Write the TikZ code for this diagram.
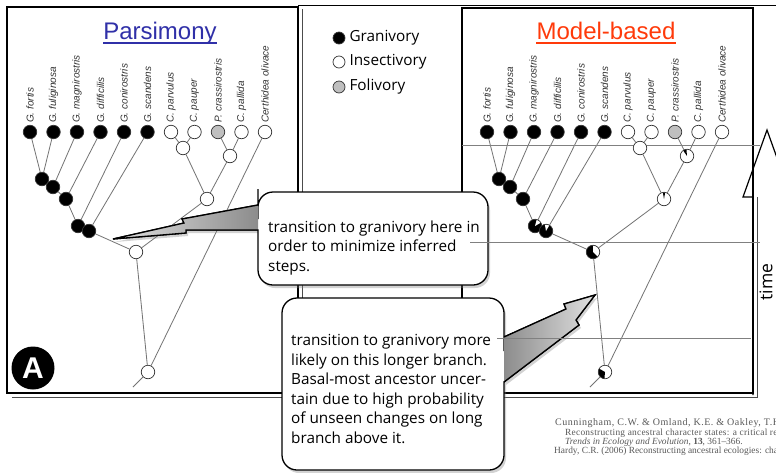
\documentclass[tikz,border=0pt]{standalone}
\usepackage{fontspec}
\setmainfont{Liberation Sans}
\newfontfamily\notefont{Open Sans}
\newfontfamily\citefont{Liberation Serif}
\newfontfamily\citewide[LetterSpace=5]{Liberation Serif}
\newfontfamily\citemid[LetterSpace=2.5]{Liberation Serif}
\usetikzlibrary{positioning, shadows, backgrounds}

\definecolor{parsblue}{HTML}{3030A8}
\definecolor{modelred}{HTML}{FF3A0A}

\tikzset{
  tip/.style={circle, draw=black!80, line width=0.7pt, minimum size=13.5pt, inner sep=0pt},
  gran/.style={tip, fill=black},
  insect/.style={tip, fill=white},
  foli/.style={tip, fill=black!25},
  pie/.style n args={3}{path picture={\fill[#3] (path picture bounding box.center) -- ++(#1:8pt) arc[start angle=#1, end angle=#2, radius=8pt] -- cycle;}},
  pd/.style={gran, pie={30}{75}{white}},
  pe/.style={gran, pie={60}{100}{white}},
  pk/.style={gran, pie={-45}{90}{white}},
  pr/.style={insect, pie={150}{265}{black}},
  ph/.style={insect, pie={80}{100}{black}},
  pg/.style={insect, pie={95}{125}{black}},
  pickL/.style 2 args={#1},
  pickR/.style 2 args={#2},
  branch/.style={draw=black!55, line width=0.8pt},
  taxon/.style={rotate=90, anchor=west, inner sep=0pt, text=black!80, font=\fontsize{10}{10}\selectfont\itshape},
  panel/.style={draw=black, line width=1.6pt},
  timeline/.style={draw=black!50, line width=0.8pt},
  callout/.style={draw=black, line width=1.3pt, fill=white, drop shadow={opacity=0.35, shadow xshift=2pt, shadow yshift=-3pt}},
  notetext/.style={align=left, anchor=base west, inner sep=0pt, font=\notefont\fontsize{15.3}{19.5}\selectfont},
  cite/.style={anchor=base west, inner sep=0pt, text=black!65, font=\citefont\fontsize{9.4}{10}\selectfont},
}

\begin{document}
\begin{tikzpicture}[x=1pt, y=-1pt]
  \useasboundingbox (0,0) rectangle (776,472);
  \clip (0,0) rectangle (776,472);
  \begin{pgfonlayer}{background}
    \fill[white] (0,0) rectangle (776,472);
  \end{pgfonlayer}

  % Panel frames
  \draw[line width=0.8pt] (298,5.5) -- (776,5.5);
  \draw[black!70, line width=1pt] (12,397) -- (302,397) -- (302,9);
  \draw[panel] (7,7) rectangle (298,393);
  \draw[black!70, line width=1pt] (466,397) -- (757,397) -- (757,197);
  \draw[panel] (462,8) rectangle (753,393);

  % Time arrow
  \draw[line width=1.2pt] (753,395) -- (753,197) -- (743,197) -- (767,130) -- (791,197) -- (781,197) -- (781,395);
  \node[rotate=90, inner sep=0pt, font=\notefont\fontsize{17.5}{18}\selectfont] (time) at (766,282) {time};

  % Time slice
  \draw[timeline] (462,145) -- (760,145);

  % Titles
  \node[parsblue, anchor=base, inner sep=0pt, font=\fontsize{24}{24}\selectfont] (ptitle) at (160,39) {Parsimony};
  \draw[parsblue, line width=1.2pt] ([yshift=-4pt]ptitle.base west) -- ([yshift=-4pt]ptitle.base east);
  \node[modelred, anchor=base, inner sep=0pt, font=\fontsize{24}{24}\selectfont] (mtitle) at (606,39) {Model-based};
  \draw[modelred, line width=1.2pt] ([yshift=-4pt]mtitle.base west) -- ([yshift=-4pt]mtitle.base east);

  % Legend
  \foreach \k/\y/\lab in {gran/38/Granivory, insect/62/Insectivory, foli/87/Folivory} {
    \node[\k, minimum size=12pt] (key-\k) at (339,\y) {};
    \node[right=4pt of key-\k, inner sep=0pt, font=\notefont\fontsize{15.3}{18}\selectfont] (lab-\k) {\lab};
  }

  % Trees
  \foreach \p/\dx in {L/0, R/457} {
    \begin{scope}[xshift=\dx]
      % tips and names
      \foreach \i/\k/\name in {1/gran/G. fortis, 2/gran/G. fuliginosa, 3/gran/G. magnirostris, 4/gran/G. difficilis, 5/gran/G. conirostris, 6/gran/G. scandens, 7/insect/C. parvulus, 8/insect/C. pauper, 9/foli/P. crassirostris, 10/insect/C. pallida, 11/insect/Certhidea olivace} {
        \node[\k] (\p t\i) at ({30+23.5*(\i-1)},132) {};
        \node[taxon] (\p lab\i) at ({30+23.5*(\i-1)},123) {\name};
      }
      % ancestors
      \foreach \n/\x/\y/\kl/\kr in {a/42/179/gran/gran, b/53/187/gran/gran, c/66/199/gran/gran, d/78/226/gran/pd, e/89/231/gran/pe, f/183/148/insect/insect, g/230/156/insect/pg, h/207/199/insect/ph, k/136/252/insect/pk, r/148/372/insect/pr} {
        \node[pick\p={\kl}{\kr}] (\p\n) at (\x,\y) {};
      }
      \coordinate (\p stem) at (133,387);
      % branches
      \begin{pgfonlayer}{background}
        \foreach \u/\v in {t1/a, t2/a, a/b, t3/b, b/c, t4/c, c/d, t5/d, d/e, t6/e, t7/f, t8/f, t9/g, t10/g, f/h, g/h, e/k, h/k, k/r, t11/r, r/stem}
          \draw[branch] (\p\u) -- (\p\v);
      \end{pgfonlayer}
    \end{scope}
  }

  % Badge
  \node[circle, fill=black, minimum size=43pt, inner sep=0pt, text=white, font=\bfseries\fontsize{30}{30}\selectfont] (badge) at (33,368) {A};

  % Upper note
  \coordinate (tipA) at (113,239);
  \draw[callout] (258,205) -- (182,219) -- (184,223) -- (tipA) -- (186,233) -- (186,230) -- (258,230) -- (258,231) [rounded corners=15pt] -- (258,285) -- (488,285) -- (488,192) -- (258,192) -- (258,204) [sharp corners] -- cycle;
  \shade[left color=black!12, right color=black!45] (258,205) -- (182,219) -- (184,223) -- (tipA) -- (186,233) -- (186,230) -- (258,230) -- cycle;
  \draw[line width=1.3pt] (258,205) -- (182,219) -- (184,223) -- (tipA) -- (186,233) -- (186,230) -- (258,230);
  \node[notetext] (noteA) at (268,271) {transition to granivory here in\\order to minimize inferred\\steps.};

  % Lower note
  \coordinate (tipB) at (595,295);
  \draw[callout] (504,337) -- (566,309) -- (564,304) -- (tipB) -- (576,320) -- (579,325) -- (504,382) -- (504,383) [rounded corners=15pt] -- (504,470) -- (282,470) -- (282,298) -- (504,298) -- (504,336) [sharp corners] -- cycle;
  \shade[left color=black!45, right color=black!12] (504,337) -- (566,309) -- (564,304) -- (tipB) -- (576,320) -- (579,325) -- (504,382) -- cycle;
  \draw[line width=1.3pt] (504,337) -- (566,309) -- (564,304) -- (tipB) -- (576,320) -- (579,325) -- (504,382);
  \node[notetext] (noteB) at (291,443) {transition to granivory more\\likely on this longer branch.\\Basal-most ancestor uncer-\\tain due to high probability\\of unseen changes on long\\branch above it.};

  % Time slices over the notes
  \draw[timeline] (470,242) -- (760,242);
  \draw[timeline] (497,338) -- (751,338);

  % References
  \node[cite, font=\citewide\fontsize{10}{11}\selectfont] (cite1) at (555,425) {Cunningham, C.W. \& Omland, K.E. \& Oakley, T.H.};
  \node[cite, font=\citemid\fontsize{9.4}{10}\selectfont] (cite2) at (565,435) {Reconstructing ancestral character states: a critical re};
  \node[cite] (cite3) at (565,444) {\textit{Trends in Ecology and Evolution}, \textbf{13}, 361–366.};
  \node[cite] (cite4) at (554,453) {Hardy, C.R. (2006) Reconstructing ancestral ecologies: cha};
\end{tikzpicture}
\end{document}
